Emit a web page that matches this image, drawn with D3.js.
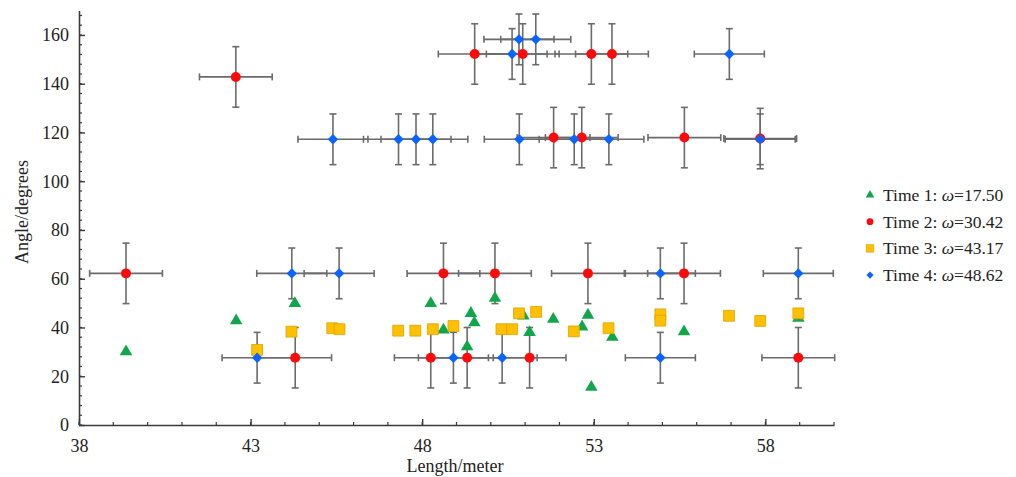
<!DOCTYPE html>
<html>
<head>
<meta charset="utf-8">
<script src="https://cdn.jsdelivr.net/npm/d3@7"></script>
<style>
  html, body { margin: 0; padding: 0; background: #fff; }
  svg { display: block; }
  text { font-family: "Liberation Serif", "Times New Roman", serif; fill: #222; }
</style>
</head>
<body>
<svg id="chart" width="1016" height="477"></svg>
<script>
// Time 1 (triangles), no error bars
const time1X = [39.37, 42.58, 44.29, 48.25, 48.62, 49.31, 49.42, 49.52, 50.12, 50.95, 51.13, 51.82, 52.66, 52.83, 52.93, 53.54, 55.63, 58.96];
const time1Y = [30.1, 42.8, 49.9, 49.9, 39.0, 32.1, 45.8, 42.0, 52.0, 44.8, 38.0, 43.4, 40.3, 45.1, 15.5, 36.0, 38.3, 43.8];

// Time 2 (circles)
const time2X = [39.37, 42.57, 44.30, 48.25, 48.62, 49.31, 49.53, 50.12, 50.93, 51.13, 51.83, 52.65, 52.83, 52.93, 53.53, 55.63, 55.64, 57.85, 58.96];
const time2Y = [62.2, 142.8, 27.6, 27.6, 62.2, 27.6, 152.2, 62.2, 152.2, 27.6, 117.9, 117.9, 62.2, 152.2, 152.2, 62.2, 117.9, 117.5, 27.6];

// Time 3 (squares), no error bars
const time3X = [43.19, 44.19, 45.38, 45.59, 47.30, 47.80, 48.31, 48.91, 50.31, 50.62, 50.82, 51.32, 52.42, 53.43, 54.94, 54.94, 56.94, 57.85, 58.96];
const time3Y = [30.8, 38.3, 39.7, 39.3, 38.7, 38.7, 39.3, 40.6, 39.3, 39.3, 45.8, 46.4, 38.4, 39.7, 45.4, 42.8, 44.8, 42.7, 45.8];

// Time 4 (diamonds)
const time4X = [43.19, 48.91, 50.33, 54.94, 44.20, 45.58, 54.94, 58.96, 45.40, 47.31, 47.82, 48.31, 50.83, 52.43, 53.44, 57.85, 50.62, 50.82, 51.31, 56.95];
const time4Y = [27.6, 27.6, 27.6, 27.6, 62.2, 62.2, 62.2, 62.2, 117.2, 117.2, 117.2, 117.2, 117.2, 117.2, 117.2, 117.2, 152.2, 158.2, 158.2, 152.2];

// Error half-widths per series: [Time 1, Time 2, Time 3, Time 4]
const errLength = [0, 1.06, 0, 1.02];
const errAngle = [0, 12.4, 0, 10.4];

const seriesNames = ["Time 1: ", "Time 2: ", "Time 3: ", "Time 4: "];
const omegaValues = ["17.50", "30.42", "43.17", "48.62"];
const seriesColors = ["#12a64c", "#ff0a0a", "#ffc000", "#0a64ff"];
const seriesStroke = ["#12a64c", "#ff0a0a", "#d9a300", "#0a64ff"];

const xTicks = [38, 43, 48, 53, 58];
const yTicks = [0, 20, 40, 60, 80, 100, 120, 140, 160];

const svg = d3.select("#chart");
const x = d3.scaleLinear().domain([38, 60]).range([79, 834]);
const y = d3.scaleLinear().domain([0, 170]).range([425, 10.6]);

const axisColor = "#3a3a3a";

// Minor ticks
const gMinor = svg.append("g").attr("stroke", axisColor).attr("stroke-width", 1.2);
d3.range(38, 60.01, 1).forEach(v => {
  gMinor.append("line").attr("x1", x(v)).attr("x2", x(v)).attr("y1", y(0)).attr("y2", y(0) - 3);
});
d3.range(0, 170.01, 4).forEach(v => {
  gMinor.append("line").attr("x1", x(38)).attr("x2", x(38) + 3).attr("y1", y(v)).attr("y2", y(v));
});

// Bottom axis
const xAxis = d3.axisBottom(x).tickValues(xTicks).tickSize(-6).tickPadding(14).tickSizeOuter(0);
const gx = svg.append("g").attr("transform", `translate(0,${y(0)})`).call(xAxis);
gx.select(".domain").attr("stroke", axisColor).attr("stroke-width", 1.6);
gx.selectAll(".tick line").attr("stroke", axisColor).attr("stroke-width", 1.4);
gx.selectAll(".tick text").attr("font-size", 18).attr("font-family", "Liberation Serif").attr("fill", "#222");

// Left axis
const yAxis = d3.axisLeft(y).tickValues(yTicks).tickSize(-6).tickPadding(10).tickSizeOuter(0);
const gy = svg.append("g").attr("transform", `translate(${x(38)},0)`).call(yAxis);
gy.select(".domain").attr("stroke", axisColor).attr("stroke-width", 1.6);
gy.selectAll(".tick line").attr("stroke", axisColor).attr("stroke-width", 1.4);
gy.selectAll(".tick text").attr("font-size", 18).attr("font-family", "Liberation Serif").attr("fill", "#222");

// Axis titles
svg.append("text").attr("x", 455).attr("y", 472).attr("text-anchor", "middle")
  .attr("font-size", 18).text("Length/meter");
svg.append("text").attr("transform", "translate(28,212) rotate(-90)").attr("text-anchor", "middle")
  .attr("font-size", 18).text("Angle/degrees");

const series = [
  { xs: time1X, ys: time1Y, symbol: d3.symbolTriangle, size: 68, rot: 0 },
  { xs: time2X, ys: time2Y, symbol: d3.symbolCircle, size: 78, rot: 0 },
  { xs: time3X, ys: time3Y, symbol: d3.symbolSquare, size: 118, rot: 0 },
  { xs: time4X, ys: time4Y, symbol: d3.symbolSquare, size: 54, rot: 45 }
];

// Error bars
const cap = 3.5;
const gErr = svg.append("g").attr("stroke", "#6b6b6b").attr("stroke-width", 1.6).attr("fill", "none");
series.forEach((s, i) => {
  if (!errLength[i]) return;
  s.xs.forEach((xv, j) => {
    const yv = s.ys[j];
    const x0 = x(xv - errLength[i]), x1 = x(xv + errLength[i]);
    const y0 = y(yv - errAngle[i]), y1 = y(yv + errAngle[i]);
    const cx = x(xv), cy = y(yv);
    gErr.append("line").attr("x1", x0).attr("x2", x1).attr("y1", cy).attr("y2", cy);
    gErr.append("line").attr("x1", x0).attr("x2", x0).attr("y1", cy - cap).attr("y2", cy + cap);
    gErr.append("line").attr("x1", x1).attr("x2", x1).attr("y1", cy - cap).attr("y2", cy + cap);
    gErr.append("line").attr("x1", cx).attr("x2", cx).attr("y1", y0).attr("y2", y1);
    gErr.append("line").attr("x1", cx - cap).attr("x2", cx + cap).attr("y1", y0).attr("y2", y0);
    gErr.append("line").attr("x1", cx - cap).attr("x2", cx + cap).attr("y1", y1).attr("y2", y1);
  });
});

// Markers
series.forEach((s, i) => {
  const path = d3.symbol().type(s.symbol).size(s.size)();
  svg.append("g").selectAll("path").data(s.xs.map((xv, j) => [xv, s.ys[j]])).join("path")
    .attr("d", path)
    .attr("transform", d => `translate(${x(d[0])},${y(d[1])}) rotate(${s.rot})`)
    .attr("fill", seriesColors[i])
    .attr("stroke", seriesStroke[i])
    .attr("stroke-width", i === 2 ? 0.8 : 0);
});

// Legend
const legendSizes = [32, 36, 58, 26];
const legend = svg.append("g");
seriesNames.forEach((name, i) => {
  const ly = 195 + i * 26.7;
  const s = series[i];
  legend.append("path")
    .attr("d", d3.symbol().type(s.symbol).size(legendSizes[i])())
    .attr("transform", `translate(870,${ly}) rotate(${s.rot})`)
    .attr("fill", seriesColors[i])
    .attr("stroke", seriesStroke[i])
    .attr("stroke-width", i === 2 ? 0.6 : 0);
  const t = legend.append("text").attr("x", 883).attr("y", ly + 6).attr("font-size", 17.5);
  t.append("tspan").text(name);
  t.append("tspan").attr("font-style", "italic").text("ω");
  t.append("tspan").text("=" + omegaValues[i]);
});
</script>
</body>
</html>
